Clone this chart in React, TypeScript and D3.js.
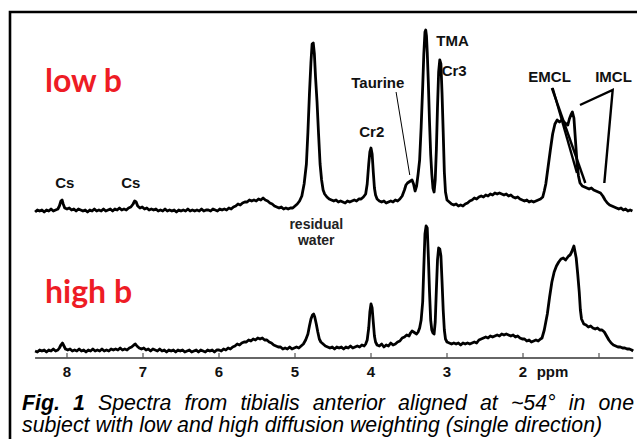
import * as d3 from "d3";
import { useEffect, useRef } from "react";

// [ppm, intensity above the baseline]
const lowBSpectrum: [number, number][] = [
  [8.42, 0], [8.39, 2], [8.36, 1], [8.33, 2], [8.3, 0], [8.27, 2], [8.24, 1], [8.21, 3], [8.18, 1], [8.15, 2],
  [8.12, 3], [8.1, 6], [8.08, 11], [8.065, 12], [8.05, 8], [8.03, 4], [8.0, 3], [7.97, 4], [7.94, 2], [7.91, 3],
  [7.88, 1], [7.85, 3], [7.82, 2], [7.79, 1], [7.76, 2], [7.73, 0], [7.7, 2], [7.67, 1], [7.64, 3], [7.61, 1],
  [7.58, 2], [7.55, 1], [7.52, 3], [7.49, 1], [7.46, 2], [7.43, 3], [7.4, 1], [7.37, 3], [7.34, 2], [7.31, 4],
  [7.28, 2], [7.25, 3], [7.22, 2], [7.19, 4], [7.16, 5], [7.13, 8], [7.11, 11], [7.09, 10], [7.07, 6], [7.04, 4],
  [7.01, 5], [6.98, 3], [6.95, 4], [6.92, 2], [6.89, 3], [6.86, 2], [6.83, 3], [6.8, 1], [6.77, 2], [6.74, 1],
  [6.71, 3], [6.68, 1], [6.65, 2], [6.62, 1], [6.59, 2], [6.56, 0], [6.53, 2], [6.5, 1], [6.47, 2], [6.44, 1],
  [6.41, 3], [6.38, 1], [6.35, 2], [6.32, 1], [6.29, 2], [6.26, 1], [6.23, 3], [6.2, 1], [6.17, 2], [6.14, 2],
  [6.11, 1], [6.08, 3], [6.05, 2], [6.02, 1], [5.99, 3], [5.96, 2], [5.93, 3], [5.9, 2], [5.87, 4], [5.84, 3],
  [5.81, 5], [5.78, 6], [5.75, 8], [5.72, 7], [5.69, 9], [5.66, 10], [5.63, 10], [5.6, 12], [5.57, 11], [5.54, 12],
  [5.51, 11], [5.48, 13], [5.45, 12], [5.42, 14], [5.39, 12], [5.36, 11], [5.33, 9], [5.3, 8], [5.27, 6], [5.24, 5],
  [5.21, 4], [5.18, 5], [5.15, 3], [5.12, 4], [5.09, 3], [5.06, 4], [5.03, 4], [5.0, 6], [4.97, 8], [4.94, 11],
  [4.91, 16], [4.88, 28], [4.85, 48], [4.83, 80], [4.81, 118], [4.79, 150], [4.775, 168], [4.76, 169], [4.745, 158],
  [4.73, 135], [4.71, 110], [4.69, 78], [4.67, 48], [4.65, 32], [4.63, 22], [4.61, 18], [4.58, 15], [4.55, 13],
  [4.52, 12], [4.49, 11], [4.46, 12], [4.43, 10], [4.4, 11], [4.37, 10], [4.34, 9], [4.31, 11], [4.28, 10],
  [4.25, 11], [4.22, 12], [4.19, 11], [4.16, 13], [4.13, 13], [4.1, 15], [4.07, 18], [4.05, 28], [4.03, 48],
  [4.015, 60], [4.0, 64], [3.985, 58], [3.97, 40], [3.955, 24], [3.94, 17], [3.92, 13], [3.89, 11], [3.86, 10],
  [3.83, 11], [3.8, 9], [3.77, 10], [3.74, 11], [3.71, 10], [3.68, 12], [3.65, 11], [3.62, 13], [3.59, 16],
  [3.56, 22], [3.54, 27], [3.52, 29], [3.5, 30], [3.48, 31], [3.46, 32], [3.44, 28], [3.42, 21], [3.4, 26],
  [3.38, 38], [3.36, 52], [3.34, 85], [3.32, 125], [3.305, 158], [3.29, 180], [3.28, 182], [3.27, 176], [3.26, 160],
  [3.245, 128], [3.23, 90], [3.215, 58], [3.2, 38], [3.185, 24], [3.17, 20], [3.155, 32], [3.14, 62], [3.125, 105],
  [3.11, 140], [3.095, 152], [3.08, 148], [3.065, 118], [3.05, 80], [3.035, 40], [3.02, 20], [3.0, 12], [2.97, 10],
  [2.94, 8], [2.91, 7], [2.88, 8], [2.85, 6], [2.82, 7], [2.79, 6], [2.76, 8], [2.73, 9], [2.7, 11], [2.67, 12],
  [2.64, 14], [2.61, 13], [2.58, 15], [2.55, 16], [2.52, 15], [2.49, 17], [2.46, 16], [2.43, 18], [2.4, 17],
  [2.37, 19], [2.34, 18], [2.31, 19], [2.28, 18], [2.25, 17], [2.22, 18], [2.19, 16], [2.16, 17], [2.13, 15],
  [2.1, 14], [2.07, 15], [2.04, 13], [2.01, 12], [1.98, 11], [1.95, 12], [1.92, 10], [1.89, 11], [1.86, 10],
  [1.83, 11], [1.8, 12], [1.77, 13], [1.74, 15], [1.72, 21], [1.7, 28], [1.67, 45], [1.64, 62], [1.61, 78],
  [1.58, 88], [1.55, 92], [1.52, 90], [1.49, 92], [1.46, 90], [1.43, 88], [1.41, 87], [1.39, 93], [1.37, 97],
  [1.35, 100], [1.33, 94], [1.31, 72], [1.29, 50], [1.27, 36], [1.25, 29], [1.22, 26], [1.19, 25], [1.16, 24],
  [1.13, 23], [1.1, 24], [1.07, 22], [1.04, 21], [1.01, 20], [0.98, 19], [0.95, 16], [0.92, 12], [0.89, 9],
  [0.86, 7], [0.83, 6], [0.8, 5], [0.77, 4], [0.74, 3], [0.71, 4], [0.68, 2], [0.65, 3], [0.62, 1], [0.59, 2],
  [0.56, 1],
];

const highBSpectrum: [number, number][] = [
  [8.42, 1], [8.39, 0], [8.36, 2], [8.33, 1], [8.3, 2], [8.27, 0], [8.24, 2], [8.21, 1], [8.18, 3], [8.15, 1],
  [8.12, 2], [8.1, 4], [8.08, 7], [8.06, 9], [8.04, 6], [8.02, 3], [7.99, 2], [7.96, 3], [7.93, 1], [7.9, 2],
  [7.87, 1], [7.84, 3], [7.81, 1], [7.78, 2], [7.75, 0], [7.72, 2], [7.69, 1], [7.66, 3], [7.63, 1], [7.6, 2],
  [7.57, 1], [7.54, 3], [7.51, 1], [7.48, 2], [7.45, 1], [7.42, 3], [7.39, 2], [7.36, 3], [7.33, 2], [7.3, 4],
  [7.27, 2], [7.24, 3], [7.21, 2], [7.18, 4], [7.15, 5], [7.12, 7], [7.1, 8], [7.08, 6], [7.05, 4], [7.02, 3],
  [6.99, 4], [6.96, 2], [6.93, 3], [6.9, 1], [6.87, 3], [6.84, 2], [6.81, 1], [6.78, 3], [6.75, 1], [6.72, 2],
  [6.69, 0], [6.66, 2], [6.63, 1], [6.6, 2], [6.57, 0], [6.54, 2], [6.51, 1], [6.48, 2], [6.45, 0], [6.42, 1],
  [6.39, 2], [6.36, 0], [6.33, 1], [6.3, 2], [6.27, 0], [6.24, 2], [6.21, 1], [6.18, 0], [6.15, 2], [6.12, 1],
  [6.09, 2], [6.06, 0], [6.03, 2], [6.0, 2], [5.97, 1], [5.94, 3], [5.91, 2], [5.88, 4], [5.85, 3], [5.82, 5],
  [5.79, 6], [5.76, 8], [5.73, 7], [5.7, 9], [5.67, 10], [5.64, 10], [5.61, 12], [5.58, 11], [5.55, 13], [5.52, 12],
  [5.49, 14], [5.46, 13], [5.43, 14], [5.4, 12], [5.37, 12], [5.34, 10], [5.31, 9], [5.28, 7], [5.25, 6], [5.22, 5],
  [5.19, 5], [5.16, 3], [5.13, 4], [5.1, 3], [5.07, 5], [5.04, 3], [5.01, 4], [4.98, 5], [4.95, 4], [4.92, 6],
  [4.89, 8], [4.86, 12], [4.83, 18], [4.81, 26], [4.79, 33], [4.77, 37], [4.755, 38], [4.74, 35], [4.72, 28],
  [4.7, 20], [4.68, 13], [4.66, 10], [4.63, 8], [4.6, 6], [4.57, 5], [4.54, 4], [4.51, 5], [4.48, 3], [4.45, 5],
  [4.42, 4], [4.39, 5], [4.36, 3], [4.33, 5], [4.3, 4], [4.27, 6], [4.24, 4], [4.21, 5], [4.18, 6], [4.15, 5],
  [4.12, 7], [4.09, 6], [4.07, 8], [4.05, 12], [4.03, 24], [4.015, 40], [4.0, 48], [3.985, 44], [3.97, 30],
  [3.955, 16], [3.94, 10], [3.92, 7], [3.89, 6], [3.86, 8], [3.83, 5], [3.8, 7], [3.77, 6], [3.74, 9], [3.71, 7],
  [3.68, 8], [3.65, 10], [3.62, 11], [3.59, 14], [3.56, 15], [3.53, 17], [3.5, 16], [3.48, 19], [3.46, 21],
  [3.44, 20], [3.42, 19], [3.4, 18], [3.38, 20], [3.36, 24], [3.34, 32], [3.32, 50], [3.305, 85], [3.29, 118],
  [3.275, 126], [3.26, 124], [3.245, 95], [3.23, 60], [3.215, 32], [3.2, 22], [3.185, 19], [3.17, 18], [3.155, 30],
  [3.14, 62], [3.125, 92], [3.11, 104], [3.095, 103], [3.08, 96], [3.065, 70], [3.05, 42], [3.035, 22], [3.02, 13],
  [3.0, 10], [2.97, 9], [2.94, 8], [2.91, 9], [2.88, 8], [2.85, 9], [2.82, 7], [2.79, 9], [2.76, 8], [2.73, 9],
  [2.7, 8], [2.67, 9], [2.64, 10], [2.61, 9], [2.58, 12], [2.55, 13], [2.52, 14], [2.49, 15], [2.46, 14], [2.43, 16],
  [2.4, 15], [2.37, 16], [2.34, 17], [2.31, 16], [2.28, 18], [2.25, 17], [2.22, 18], [2.19, 17], [2.16, 16],
  [2.13, 17], [2.1, 15], [2.07, 16], [2.04, 14], [2.01, 13], [1.98, 13], [1.95, 11], [1.92, 12], [1.89, 10],
  [1.86, 11], [1.83, 12], [1.8, 11], [1.77, 13], [1.75, 14], [1.72, 22], [1.7, 30], [1.68, 38], [1.65, 55],
  [1.62, 70], [1.59, 80], [1.56, 86], [1.53, 90], [1.5, 93], [1.47, 94], [1.44, 92], [1.42, 94], [1.4, 96],
  [1.38, 97], [1.36, 100], [1.34, 104], [1.33, 106], [1.32, 102], [1.3, 94], [1.28, 78], [1.26, 60], [1.245, 42],
  [1.23, 33], [1.2, 28], [1.17, 27], [1.14, 25], [1.11, 26], [1.08, 24], [1.05, 23], [1.02, 24], [0.99, 22],
  [0.96, 22], [0.93, 20], [0.9, 16], [0.87, 12], [0.84, 9], [0.81, 7], [0.78, 6], [0.75, 5], [0.72, 5], [0.69, 4],
  [0.66, 4], [0.63, 3], [0.6, 3], [0.57, 2], [0.55, 1],
];

const ppmTicks = [8, 7, 6, 5, 4, 3, 2, 1];
const tickLabels = ["8", "7", "6", "5", "4", "3", "2", ""];
const seriesNames = ["low b", "high b"];

// peak names on the low b trace, placed at [ppm, intensity]
const peakNames = ["Cs", "Cs", "Taurine", "Cr2", "TMA", "Cr3", "EMCL", "IMCL"];
const peakNamePos: [number, number][] = [
  [8.03, 24], [7.16, 24], [3.91, 124], [3.99, 75], [3.14, 166], [3.07, 136], [1.93, 130], [1.05, 130],
];
const waterLines = ["residual", "water"];

const captionLine1 = ["Fig.", "1", "Spectra", "from", "tibialis", "anterior", "aligned", "at", "~54°", "in", "one"];
const captionLine2 = "subject with low and high diffusion weighting (single direction)";

export default function App() {
  const captionRef = useRef<SVGGElement>(null);

  const width = 637;
  const height = 439;
  const x = d3.scaleLinear().domain([8, 1]).range([67, 599]);
  const yLow = d3.scaleLinear().domain([0, 200]).range([212, 12]);
  const yHigh = d3.scaleLinear().domain([0, 200]).range([352, 152]);
  const axisY = 358;

  const lowLine = d3.line<[number, number]>().x((d) => x(d[0])).y((d) => yLow(d[1]));
  const highLine = d3.line<[number, number]>().x((d) => x(d[0])).y((d) => yHigh(d[1]));

  useEffect(() => {
    // justify the first caption line word by word
    const words = d3.select(captionRef.current).selectAll<SVGTextElement, unknown>("text.w1").nodes();
    const widths = words.map((n) => n.getComputedTextLength());
    const left = 22;
    const right = 634;
    const gap = (right - left - d3.sum(widths)) / (words.length - 1);
    let cx = left;
    words.forEach((n, i) => {
      d3.select(n).attr("x", cx);
      cx += widths[i] + gap;
    });
  }, []);

  const labelFont = "'Liberation Sans', Arial, sans-serif";

  return (
    <svg
      width={width}
      height={height}
      style={{ position: "absolute", left: 0, top: 0, background: "#fff" }}
    >
      <rect width={width} height={height} fill="#fff" />
      <path d={`M10,439V12H637`} fill="none" stroke="#000" strokeWidth={2.6} />

      <path d={lowLine(lowBSpectrum) ?? ""} fill="none" stroke="#000" strokeWidth={2.8} strokeLinejoin="round" />
      <path d={highLine(highBSpectrum) ?? ""} fill="none" stroke="#000" strokeWidth={2.8} strokeLinejoin="round" />

      <g fontFamily="Lato, sans-serif" fontWeight="bold" fontSize={32} fill="#ee1c25">
        <text x={45} y={92}>{seriesNames[0]}</text>
        <text x={45} y={303}>{seriesNames[1]}</text>
      </g>

      <g fontFamily={labelFont} fontWeight="bold" fontSize={15} fill="#111">
        {peakNames.map((name, i) => {
          const [p, v] = peakNamePos[i];
          const anchor = name === "Cs" || name === "Cr2" || name === "Taurine" ? "middle" : "start";
          return (
            <text key={i} x={x(p)} y={yLow(v)} textAnchor={anchor}>
              {name}
            </text>
          );
        })}
      </g>
      <g fontFamily={labelFont} fontWeight="bold" fontSize={14} fill="#222" textAnchor="middle">
        <text x={x(4.72)} y={yLow(-17)}>{waterLines[0]}</text>
        <text x={x(4.72)} y={yLow(-33)}>{waterLines[1]}</text>
      </g>

      <line x1={x(3.67)} y1={yLow(120)} x2={x(3.49)} y2={yLow(37)} stroke="#000" strokeWidth={1} />
      <g stroke="#000" strokeWidth={2.4} fill="none">
        <line x1={x(1.62)} y1={yLow(124)} x2={x(1.18)} y2={yLow(29)} />
        <line x1={x(1.61)} y1={yLow(124)} x2={x(1.29)} y2={yLow(39)} />
        <polyline
          points={[
            [x(1.25), yLow(107)],
            [x(0.82), yLow(122)],
            [x(0.93), yLow(29)],
          ]
            .map((p) => p.join(","))
            .join(" ")}
        />
      </g>

      <line x1={x(8.42)} x2={x(0.55)} y1={axisY} y2={axisY} stroke="#333" strokeWidth={1.5} />
      {ppmTicks.map((t, i) => (
        <g key={t} transform={`translate(${x(t)},0)`}>
          <line y1={axisY} y2={axisY - 5} stroke="#555" strokeWidth={1.2} />
          {tickLabels[i] && (
            <text y={377} textAnchor="middle" fontFamily={labelFont} fontWeight="bold" fontSize={15} fill="#111">
              {tickLabels[i]}
            </text>
          )}
        </g>
      ))}
      <text x={x(1.82)} y={377} fontFamily={labelFont} fontWeight="bold" fontSize={15} fill="#111">
        ppm
      </text>

      <g ref={captionRef} fontFamily={labelFont} fontStyle="italic" fontSize={21.3} fill="#000">
        {captionLine1.map((w, i) => (
          <text key={i} className="w1" x={22} y={410} fontWeight={i < 2 ? "bold" : "normal"}>
            {w}
          </text>
        ))}
        <text x={22} y={432}>{captionLine2}</text>
      </g>
    </svg>
  );
}
